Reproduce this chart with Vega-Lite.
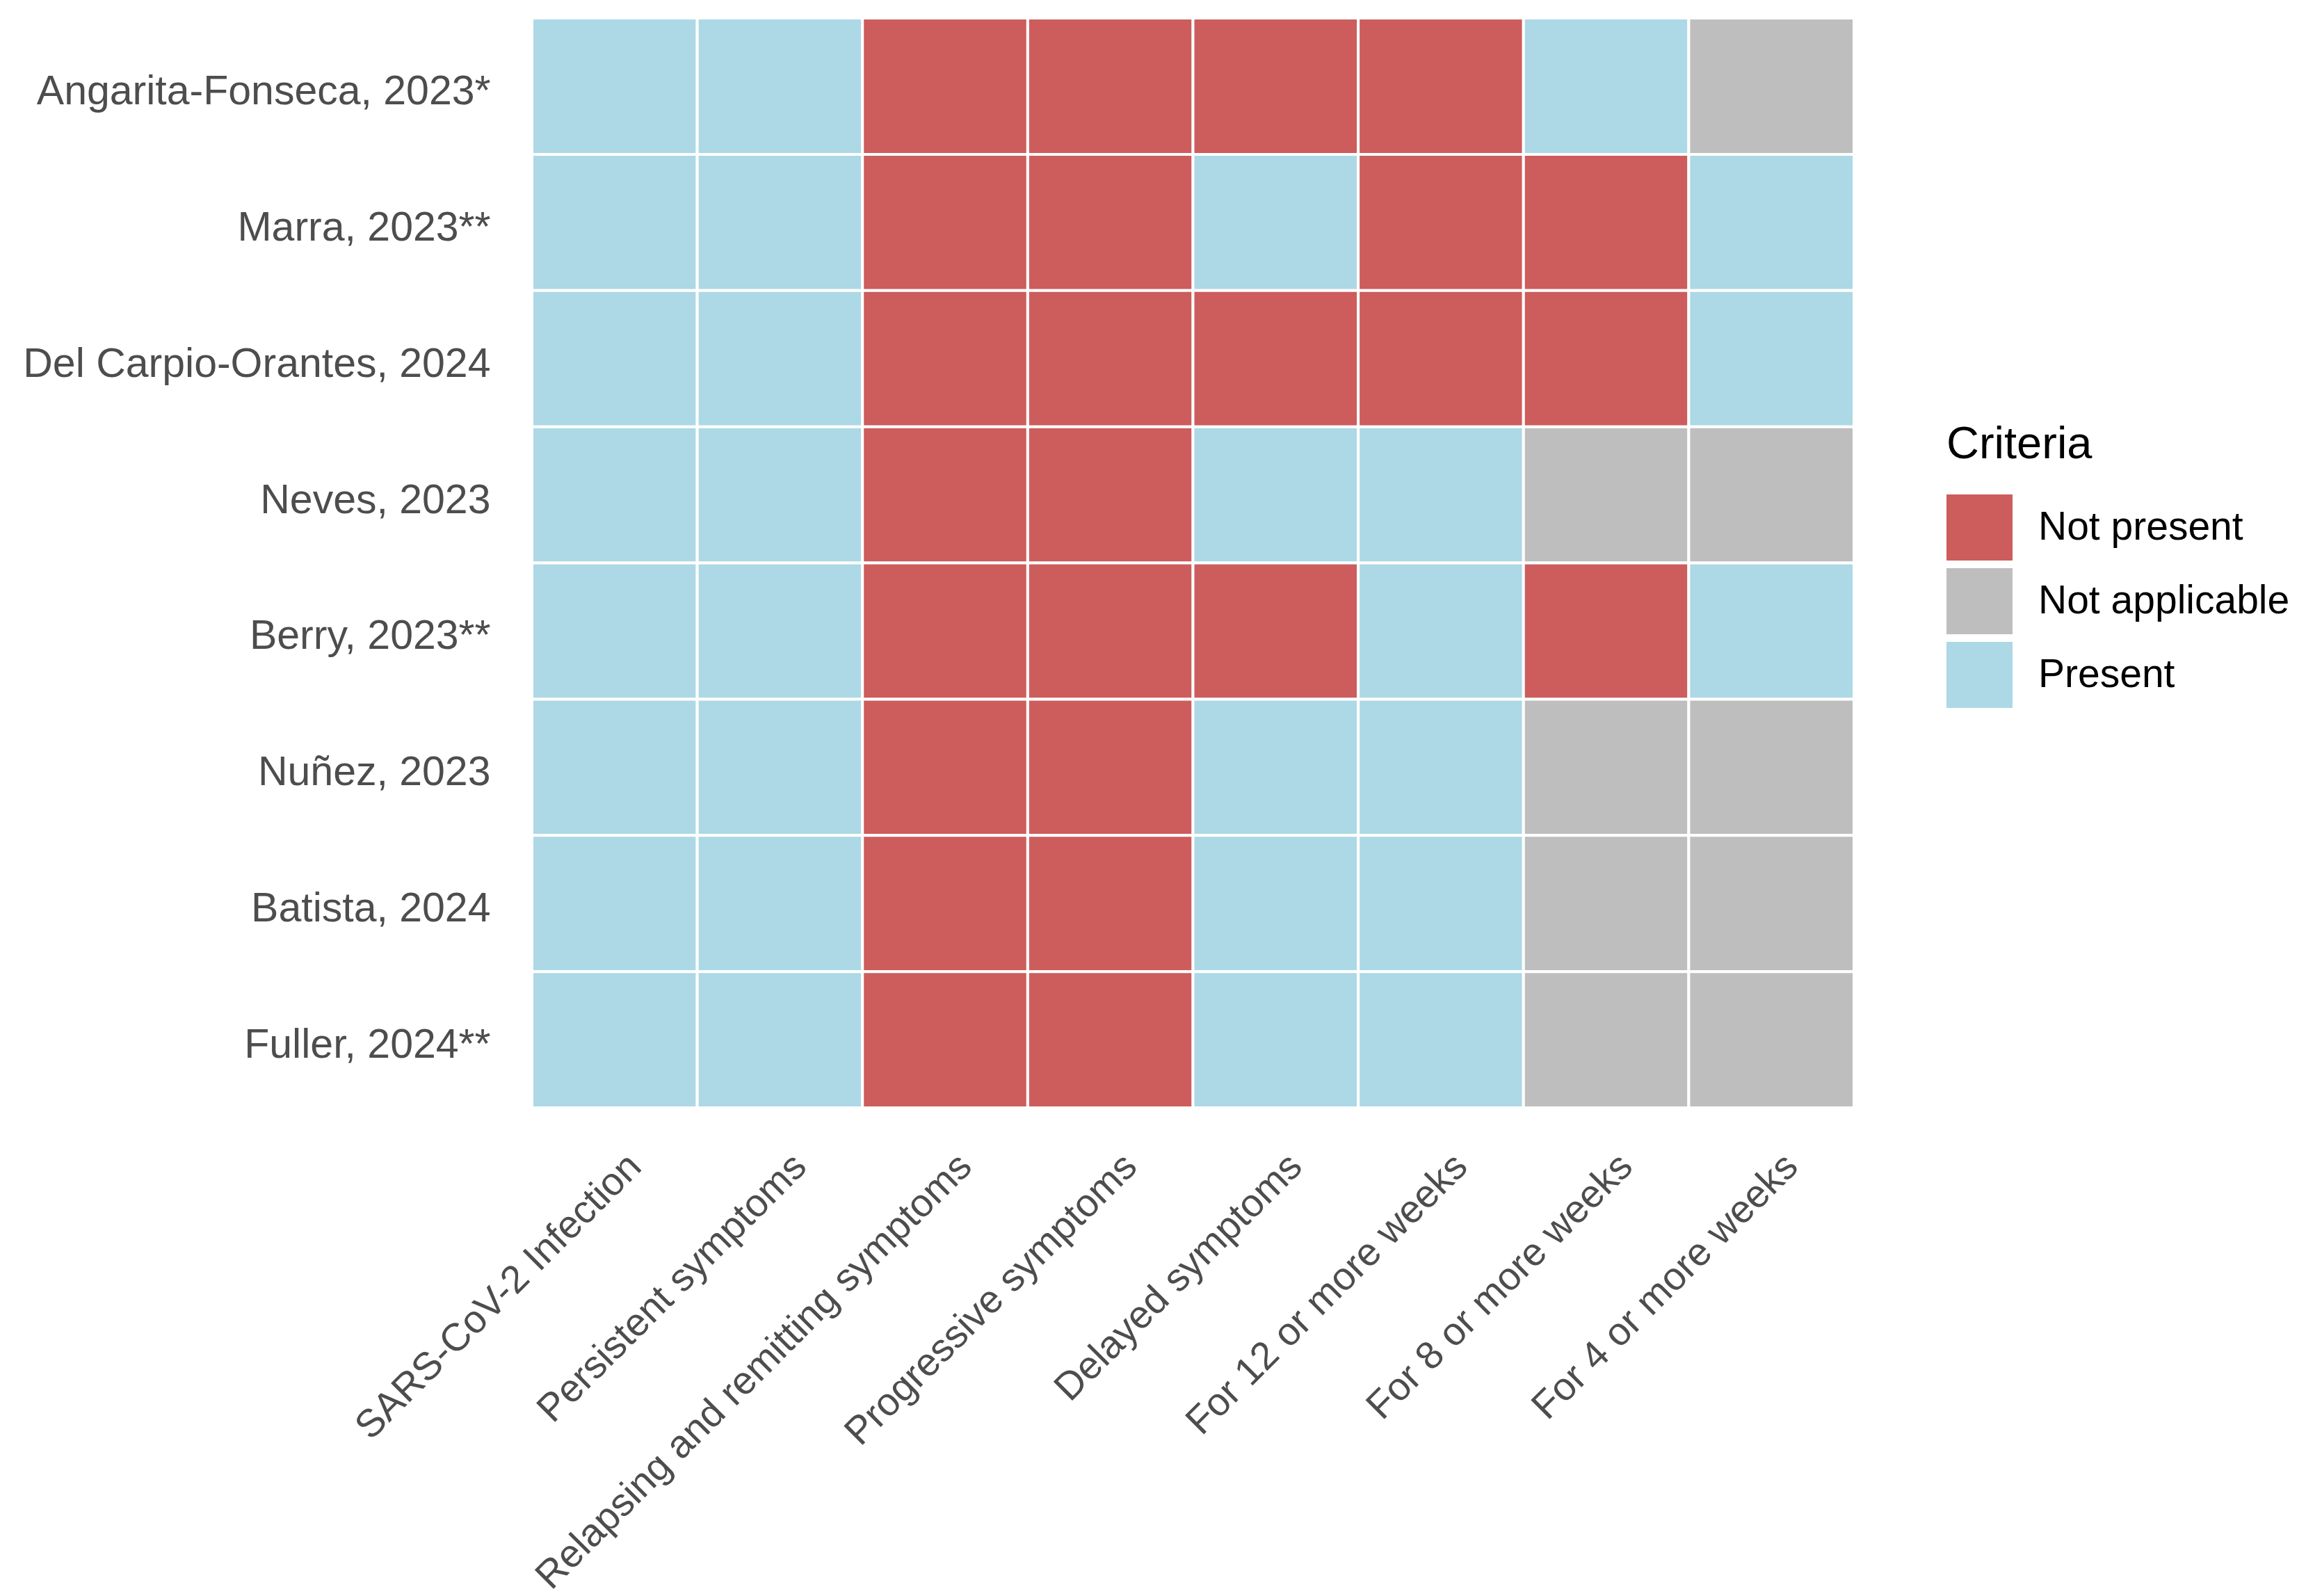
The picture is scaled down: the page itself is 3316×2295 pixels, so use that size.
{
  "$schema": "https://vega.github.io/schema/vega-lite/v6.json",
  "width": 1901,
  "height": 1567,
  "autosize": {"type": "none"},
  "padding": {"left": 765, "top": 26, "right": 650, "bottom": 702},
  "background": "white",
  "config": {"view": {"stroke": null}, "font": "Liberation Sans"},
  "data": {"values": [
    {"study": "Angarita-Fonseca, 2023*", "criterion": "SARS-CoV-2 Infection", "status": "Present"},
    {"study": "Angarita-Fonseca, 2023*", "criterion": "Persistent symptoms", "status": "Present"},
    {"study": "Angarita-Fonseca, 2023*", "criterion": "Relapsing and remitting symptoms", "status": "Not present"},
    {"study": "Angarita-Fonseca, 2023*", "criterion": "Progressive symptoms", "status": "Not present"},
    {"study": "Angarita-Fonseca, 2023*", "criterion": "Delayed symptoms", "status": "Not present"},
    {"study": "Angarita-Fonseca, 2023*", "criterion": "For 12 or more weeks", "status": "Not present"},
    {"study": "Angarita-Fonseca, 2023*", "criterion": "For 8 or more weeks", "status": "Present"},
    {"study": "Angarita-Fonseca, 2023*", "criterion": "For 4 or more weeks", "status": "Not applicable"},

    {"study": "Marra, 2023**", "criterion": "SARS-CoV-2 Infection", "status": "Present"},
    {"study": "Marra, 2023**", "criterion": "Persistent symptoms", "status": "Present"},
    {"study": "Marra, 2023**", "criterion": "Relapsing and remitting symptoms", "status": "Not present"},
    {"study": "Marra, 2023**", "criterion": "Progressive symptoms", "status": "Not present"},
    {"study": "Marra, 2023**", "criterion": "Delayed symptoms", "status": "Present"},
    {"study": "Marra, 2023**", "criterion": "For 12 or more weeks", "status": "Not present"},
    {"study": "Marra, 2023**", "criterion": "For 8 or more weeks", "status": "Not present"},
    {"study": "Marra, 2023**", "criterion": "For 4 or more weeks", "status": "Present"},

    {"study": "Del Carpio-Orantes, 2024", "criterion": "SARS-CoV-2 Infection", "status": "Present"},
    {"study": "Del Carpio-Orantes, 2024", "criterion": "Persistent symptoms", "status": "Present"},
    {"study": "Del Carpio-Orantes, 2024", "criterion": "Relapsing and remitting symptoms", "status": "Not present"},
    {"study": "Del Carpio-Orantes, 2024", "criterion": "Progressive symptoms", "status": "Not present"},
    {"study": "Del Carpio-Orantes, 2024", "criterion": "Delayed symptoms", "status": "Not present"},
    {"study": "Del Carpio-Orantes, 2024", "criterion": "For 12 or more weeks", "status": "Not present"},
    {"study": "Del Carpio-Orantes, 2024", "criterion": "For 8 or more weeks", "status": "Not present"},
    {"study": "Del Carpio-Orantes, 2024", "criterion": "For 4 or more weeks", "status": "Present"},

    {"study": "Neves, 2023", "criterion": "SARS-CoV-2 Infection", "status": "Present"},
    {"study": "Neves, 2023", "criterion": "Persistent symptoms", "status": "Present"},
    {"study": "Neves, 2023", "criterion": "Relapsing and remitting symptoms", "status": "Not present"},
    {"study": "Neves, 2023", "criterion": "Progressive symptoms", "status": "Not present"},
    {"study": "Neves, 2023", "criterion": "Delayed symptoms", "status": "Present"},
    {"study": "Neves, 2023", "criterion": "For 12 or more weeks", "status": "Present"},
    {"study": "Neves, 2023", "criterion": "For 8 or more weeks", "status": "Not applicable"},
    {"study": "Neves, 2023", "criterion": "For 4 or more weeks", "status": "Not applicable"},

    {"study": "Berry, 2023**", "criterion": "SARS-CoV-2 Infection", "status": "Present"},
    {"study": "Berry, 2023**", "criterion": "Persistent symptoms", "status": "Present"},
    {"study": "Berry, 2023**", "criterion": "Relapsing and remitting symptoms", "status": "Not present"},
    {"study": "Berry, 2023**", "criterion": "Progressive symptoms", "status": "Not present"},
    {"study": "Berry, 2023**", "criterion": "Delayed symptoms", "status": "Not present"},
    {"study": "Berry, 2023**", "criterion": "For 12 or more weeks", "status": "Present"},
    {"study": "Berry, 2023**", "criterion": "For 8 or more weeks", "status": "Not present"},
    {"study": "Berry, 2023**", "criterion": "For 4 or more weeks", "status": "Present"},

    {"study": "Nuñez, 2023", "criterion": "SARS-CoV-2 Infection", "status": "Present"},
    {"study": "Nuñez, 2023", "criterion": "Persistent symptoms", "status": "Present"},
    {"study": "Nuñez, 2023", "criterion": "Relapsing and remitting symptoms", "status": "Not present"},
    {"study": "Nuñez, 2023", "criterion": "Progressive symptoms", "status": "Not present"},
    {"study": "Nuñez, 2023", "criterion": "Delayed symptoms", "status": "Present"},
    {"study": "Nuñez, 2023", "criterion": "For 12 or more weeks", "status": "Present"},
    {"study": "Nuñez, 2023", "criterion": "For 8 or more weeks", "status": "Not applicable"},
    {"study": "Nuñez, 2023", "criterion": "For 4 or more weeks", "status": "Not applicable"},

    {"study": "Batista, 2024", "criterion": "SARS-CoV-2 Infection", "status": "Present"},
    {"study": "Batista, 2024", "criterion": "Persistent symptoms", "status": "Present"},
    {"study": "Batista, 2024", "criterion": "Relapsing and remitting symptoms", "status": "Not present"},
    {"study": "Batista, 2024", "criterion": "Progressive symptoms", "status": "Not present"},
    {"study": "Batista, 2024", "criterion": "Delayed symptoms", "status": "Present"},
    {"study": "Batista, 2024", "criterion": "For 12 or more weeks", "status": "Present"},
    {"study": "Batista, 2024", "criterion": "For 8 or more weeks", "status": "Not applicable"},
    {"study": "Batista, 2024", "criterion": "For 4 or more weeks", "status": "Not applicable"},

    {"study": "Fuller, 2024**", "criterion": "SARS-CoV-2 Infection", "status": "Present"},
    {"study": "Fuller, 2024**", "criterion": "Persistent symptoms", "status": "Present"},
    {"study": "Fuller, 2024**", "criterion": "Relapsing and remitting symptoms", "status": "Not present"},
    {"study": "Fuller, 2024**", "criterion": "Progressive symptoms", "status": "Not present"},
    {"study": "Fuller, 2024**", "criterion": "Delayed symptoms", "status": "Present"},
    {"study": "Fuller, 2024**", "criterion": "For 12 or more weeks", "status": "Present"},
    {"study": "Fuller, 2024**", "criterion": "For 8 or more weeks", "status": "Not applicable"},
    {"study": "Fuller, 2024**", "criterion": "For 4 or more weeks", "status": "Not applicable"}
  ]},
  "mark": {"type": "rect", "stroke": "white", "strokeWidth": 4},
  "encoding": {
    "x": {
      "field": "criterion", "type": "nominal",
      "sort": ["SARS-CoV-2 Infection", "Persistent symptoms", "Relapsing and remitting symptoms", "Progressive symptoms", "Delayed symptoms", "For 12 or more weeks", "For 8 or more weeks", "For 4 or more weeks"],
      "scale": {"paddingInner": 0, "paddingOuter": 0},
      "axis": {
        "title": null, "ticks": false, "domain": false, "grid": false,
        "labelAngle": -45, "labelAlign": "right", "labelBaseline": "top",
        "labelFontSize": 56, "labelColor": "#4D4D4D", "labelPadding": 56, "labelOffset": 10,
        "labelFont": "Liberation Sans", "labelLimit": 2000
      }
    },
    "y": {
      "field": "study", "type": "nominal",
      "sort": ["Angarita-Fonseca, 2023*", "Marra, 2023**", "Del Carpio-Orantes, 2024", "Neves, 2023", "Berry, 2023**", "Nuñez, 2023", "Batista, 2024", "Fuller, 2024**"],
      "scale": {"paddingInner": 0, "paddingOuter": 0},
      "axis": {
        "title": null, "ticks": false, "domain": false, "grid": false,
        "labelFontSize": 59, "labelColor": "#4D4D4D", "labelPadding": 60, "labelOffset": 8,
        "labelFont": "Liberation Sans", "labelLimit": 2000
      }
    },
    "color": {
      "field": "status", "type": "nominal",
      "scale": {"domain": ["Not present", "Not applicable", "Present"], "range": ["#CD5C5C", "#BEBEBE", "#ADD8E6"]},
      "legend": {
        "title": "Criteria", "orient": "none", "legendX": 2034, "legendY": 582,
        "titleFontSize": 65, "titleFontWeight": "normal", "titleColor": "black", "titleFont": "Liberation Sans",
        "titlePadding": 38, "titleLimit": 1000,
        "labelFontSize": 57, "labelColor": "black", "labelFont": "Liberation Sans", "labelOffset": 37,
        "symbolType": "square", "symbolSize": 9025, "symbolStrokeWidth": 0, "symbolOpacity": 1,
        "rowPadding": 11, "labelLimit": 1000
      }
    }
  }
}
